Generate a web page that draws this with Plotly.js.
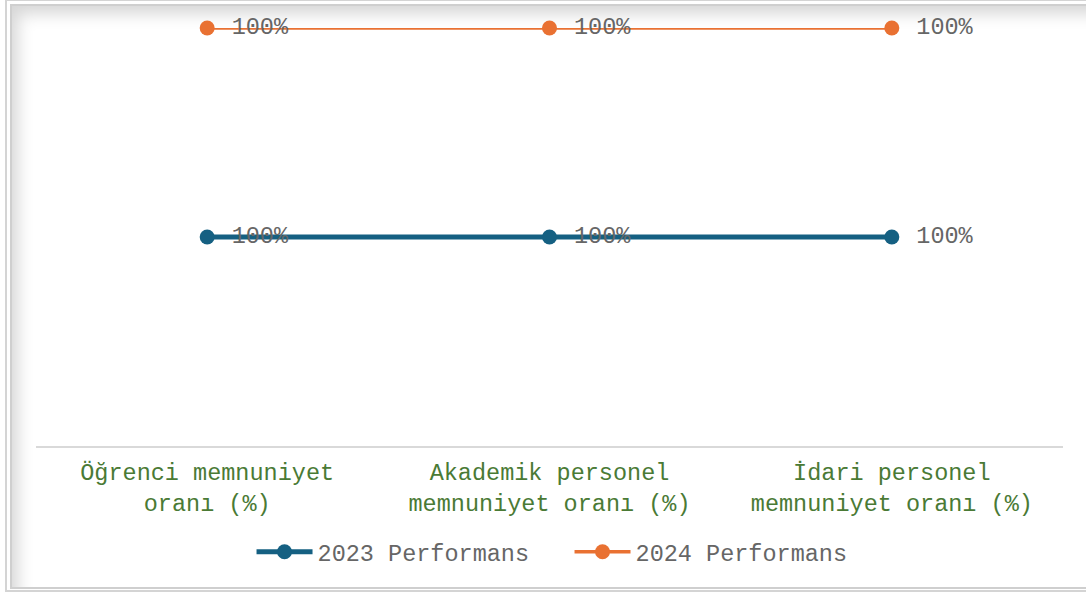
<!DOCTYPE html>
<html>
<head>
<meta charset="utf-8">
<script src="https://cdn.plot.ly/plotly-3.0.1.min.js"></script>
<style>
  html, body { margin:0; padding:0; background:#ffffff; width:1086px; height:594px; overflow:hidden; }
  #frameOuter { position:absolute; left:5px; top:-1px; width:1100px; height:589px; border:2px solid #d4d4d4; box-sizing:content-box; }
  #frameInner { position:absolute; left:10px; top:4px; width:1090px; height:581px; border:2px solid #cfcfcf;
                box-shadow: inset 12px 14px 16px -6px rgba(0,0,0,0.16); }
  #chart { position:absolute; left:0; top:0; width:1086px; height:594px; }
</style>
</head>
<body>
<div id="frameOuter"></div>
<div id="frameInner"></div>
<div id="chart"></div>
<script>
const categories = ["Öğrenci memnuniyet<br>oranı (%)", "Akademik personel<br>memnuniyet oranı (%)", "İdari personel<br>memnuniyet oranı (%)"];
const series2023 = [100, 100, 100];
const series2024 = [100, 100, 100];
const seriesNames = ["2023 Performans", "2024 Performans"];

const FONT = "'Liberation Mono', 'Courier New', monospace";
const labelFont = {family: FONT, size: 23.5, color: "#666666"};

const traces = [
  {
    x: categories, y: series2023, name: seriesNames[0], type: "scatter", mode: "lines+markers+text",
    stackgroup: "s", fill: "none",
    line: {color: "#156082", width: 5}, marker: {color: "#156082", size: 15},
    text: series2023.map(v => " " + v + "%"), textposition: "middle right", textfont: labelFont,
    cliponaxis: false, hoverinfo: "skip"
  },
  {
    x: categories, y: series2024, name: seriesNames[1], type: "scatter", mode: "lines+markers+text",
    stackgroup: "s", fill: "none",
    line: {color: "#E97132", width: 3.5}, marker: {color: "#E97132", size: 15},
    text: series2024.map(v => " " + v + "%"), textposition: "middle right", textfont: labelFont,
    cliponaxis: false, hoverinfo: "skip"
  }
];

const layout = {
  width: 1086, height: 594,
  margin: {l: 36, r: 23, t: 28, b: 148},
  paper_bgcolor: "rgba(0,0,0,0)", plot_bgcolor: "rgba(0,0,0,0)",
  showlegend: true,
  legend: {orientation: "h", x: 0.5195, xanchor: "center", y: -0.2536, yanchor: "middle",
           font: {family: FONT, size: 23.5, color: "#666666"}, itemwidth: 56,
           entrywidth: 247, entrywidthmode: "pixels", traceorder: "normal"},
  xaxis: {type: "category", range: [-0.5, 2.5], showgrid: false, zeroline: false,
          showline: true, linecolor: "#d9d9d9", linewidth: 2,
          ticks: "outside", ticklen: 4, tickcolor: "rgba(0,0,0,0)",
          tickfont: {family: FONT, size: 23.5, color: "#4a7a35"}, fixedrange: true},
  yaxis: {range: [0, 200], visible: false, showgrid: false, zeroline: false, fixedrange: true}
};

Plotly.newPlot("chart", traces, layout, {displayModeBar: false, staticPlot: true});
</script>
</body>
</html>
